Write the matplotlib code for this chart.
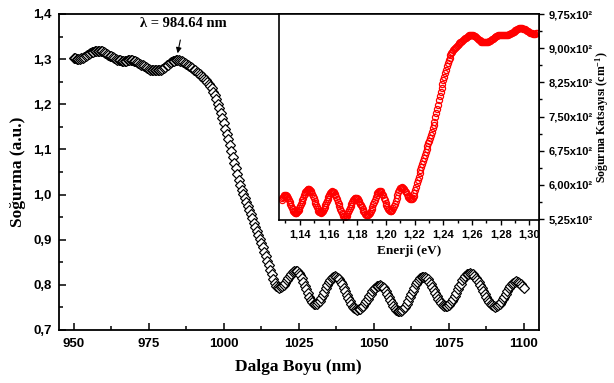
import numpy as np
import matplotlib
matplotlib.use("Agg")
import matplotlib.pyplot as plt
from matplotlib.ticker import MultipleLocator, FuncFormatter

plt.rcParams["mathtext.fontset"] = "custom"
plt.rcParams["mathtext.rm"] = "Liberation Serif:bold"
plt.rcParams["mathtext.default"] = "rm"

# ---- data ----
wl_start = 950.0
wl_step = 0.5
absorbance = [
    # 950.0 - 993.5
    1.303, 1.302, 1.301, 1.301, 1.301, 1.302, 1.303, 1.305, 1.307, 1.309,
    1.311, 1.313, 1.315, 1.316, 1.317, 1.318, 1.318, 1.318, 1.318, 1.317,
    1.316, 1.314, 1.312, 1.310, 1.308, 1.306, 1.304, 1.302, 1.300, 1.299,
    1.298, 1.297, 1.296, 1.296, 1.296, 1.296, 1.297, 1.297, 1.297, 1.297,
    1.296, 1.295, 1.294, 1.292, 1.290, 1.288, 1.286, 1.284, 1.282, 1.280,
    1.279, 1.277, 1.276, 1.275, 1.275, 1.275, 1.275, 1.276, 1.277, 1.279,
    1.281, 1.283, 1.286, 1.288, 1.291, 1.293, 1.295, 1.296, 1.297, 1.297,
    1.297, 1.296, 1.295, 1.293, 1.291, 1.289, 1.287, 1.285, 1.282, 1.280,
    1.277, 1.275, 1.272, 1.269, 1.266, 1.263, 1.260, 1.257,
    # 994.0 - 1018.5
    1.254, 1.250, 1.246, 1.241, 1.235, 1.228, 1.220, 1.211, 1.201, 1.191,
    1.180, 1.169, 1.158, 1.146, 1.134, 1.122, 1.110, 1.097, 1.084, 1.071,
    1.058, 1.045, 1.032, 1.021, 1.011, 1.001, 0.992, 0.983, 0.974, 0.965,
    0.956, 0.947, 0.938, 0.929, 0.920, 0.910, 0.901, 0.892, 0.883, 0.873,
    0.863, 0.853, 0.843, 0.833, 0.823, 0.813, 0.804, 0.798, 0.795, 0.794,
    # 1019.0 - 1024.0
    0.795, 0.797, 0.800, 0.805, 0.810, 0.815, 0.820, 0.825, 0.828, 0.830, 0.831,
    # 1024.5 - 1030.5
    0.830, 0.827, 0.822, 0.815, 0.807, 0.798, 0.790, 0.781, 0.773, 0.766, 0.761, 0.758, 0.757,
    # 1031.0 - 1037.0
    0.758, 0.761, 0.765, 0.770, 0.777, 0.784, 0.792, 0.799, 0.806, 0.811, 0.815, 0.818, 0.819,
    # 1037.5 - 1044.5
    0.818, 0.816, 0.812, 0.807, 0.801, 0.793, 0.786, 0.778, 0.771, 0.764, 0.757, 0.752, 0.748, 0.746, 0.745,
    # 1045.0 - 1052.0
    0.746, 0.747, 0.750, 0.754, 0.759, 0.764, 0.769, 0.775, 0.780, 0.786, 0.790, 0.794, 0.797, 0.798, 0.799,
    # 1052.5 - 1058.5
    0.798, 0.796, 0.792, 0.786, 0.780, 0.774, 0.766, 0.760, 0.754, 0.748, 0.744, 0.742, 0.741,
    # 1059.0 - 1066.5
    0.742, 0.744, 0.748, 0.752, 0.758, 0.765, 0.772, 0.780, 0.787, 0.794, 0.801, 0.807, 0.811, 0.815, 0.817, 0.818,
    # 1067.0 - 1074.0
    0.817, 0.815, 0.812, 0.807, 0.802, 0.796, 0.789, 0.782, 0.775, 0.769, 0.764, 0.759, 0.756, 0.754, 0.753,
    # 1074.5 - 1082.0
    0.754, 0.756, 0.759, 0.764, 0.769, 0.776, 0.782, 0.790, 0.797, 0.803, 0.810, 0.815, 0.820, 0.823, 0.825, 0.826,
    # 1082.5 - 1090.5
    0.825, 0.823, 0.820, 0.816, 0.811, 0.806, 0.799, 0.792, 0.786, 0.779, 0.773, 0.767, 0.762, 0.758, 0.755, 0.753, 0.752,
    # 1091.0 - 1097.5
    0.753, 0.755, 0.758, 0.763, 0.768, 0.774, 0.780, 0.786, 0.792, 0.797, 0.801, 0.805, 0.807, 0.808,
    # 1098.0 - 1100.0
    0.807, 0.805, 0.802, 0.798, 0.793,
]
wavelength = wl_start + wl_step * np.arange(len(absorbance))

# inset: photon energy (eV) and absorption coefficient (cm^-1)
HC_EV_NM = 1240.0
ALPHA_PER_ABS = 716.0
energy = HC_EV_NM / wavelength
alpha = ALPHA_PER_ABS * np.array(absorbance)

peak_wavelength = 984.64
peak_label = "λ = 984.64 nm"

main_xticks = [950, 975, 1000, 1025, 1050, 1075, 1100]

# ---- figure ----
W, H = 614, 383
fig = plt.figure(figsize=(W / 100, H / 100), dpi=100)
fig.patch.set_facecolor("white")

label_font = dict(family="Liberation Serif", weight="bold")

ax = fig.add_axes([58.7 / W, 1 - 330 / H, (538.7 - 58.7) / W, (330 - 14) / H])
ax.plot(wavelength, absorbance, linestyle="none", marker="D", markersize=4.7,
        markerfacecolor="white", markeredgecolor="black", markeredgewidth=0.85)
ax.set_xlim(945, 1105)
ax.set_ylim(0.7, 1.4)
ax.set_xticks(main_xticks)
ax.xaxis.set_minor_locator(MultipleLocator(12.5))
ax.yaxis.set_major_locator(MultipleLocator(0.1))
ax.yaxis.set_minor_locator(MultipleLocator(0.05))
ax.yaxis.set_major_formatter(FuncFormatter(lambda v, p: f"{v:.1f}".replace(".", ",")))
ax.tick_params(which="both", direction="in", top=False, right=False)
ax.tick_params(which="major", length=5, width=1.1)
ax.tick_params(which="minor", length=3, width=1.1)
for lab in ax.get_xticklabels() + ax.get_yticklabels():
    lab.set_fontfamily("Liberation Sans")
    lab.set_fontweight("bold")
    lab.set_fontsize(9.5)
ax.tick_params(axis="x", pad=6)
ax.tick_params(axis="y", pad=5)
for s in ax.spines.values():
    s.set_linewidth(1.3)
ax.set_xlabel("Dalga Boyu (nm)", fontsize=12.5, labelpad=6, **label_font)
ax.set_ylabel("Soğurma (a.u.)", fontsize=12.5, labelpad=5, **label_font)

ax.annotate(peak_label, xy=(peak_wavelength, 1.313), xytext=(peak_wavelength + 2, 1.378),
            ha="center", va="center", fontsize=10.5, **label_font,
            arrowprops=dict(arrowstyle="-|>", color="black", lw=0.8, mutation_scale=8,
                            shrinkA=5, shrinkB=0))

# inset
ins = fig.add_axes([279 / W, 1 - 220 / H, (538.7 - 279) / W, (220 - 14) / H])
ins.set_facecolor("white")
ins.plot(energy, alpha, linestyle="none", marker="o", markersize=4.4,
         markerfacecolor="none", markeredgecolor="red", markeredgewidth=0.9)
ins.set_xlim(1.1255, 1.3065)
ins.set_ylim(523, 975)
ins.xaxis.set_minor_locator(MultipleLocator(0.01))
ins.yaxis.set_major_locator(MultipleLocator(75))
ins.yaxis.set_minor_locator(MultipleLocator(37.5))
ins.set_xticks(np.arange(1.14, 1.3001, 0.02))
ins.xaxis.set_major_formatter(FuncFormatter(lambda v, p: f"{v:.2f}".replace(".", ",")))
ins.yaxis.set_major_formatter(FuncFormatter(lambda v, p: f"{v/100:.2f}".replace(".", ",") + "x10²"))
ins.yaxis.tick_right()
ins.tick_params(which="both", direction="out")
ins.tick_params(which="major", length=3.5, width=1)
ins.tick_params(which="minor", length=2, width=1)
for lab in ins.get_xticklabels() + ins.get_yticklabels():
    lab.set_fontfamily("Liberation Sans")
    lab.set_fontweight("bold")
    lab.set_fontsize(8)
for s in ins.spines.values():
    s.set_linewidth(1.2)
ins.set_xlabel("Enerji (eV)", fontsize=9.5, labelpad=4, **label_font)
fig.text(602 / W, 1 - 117 / H, "Soğurma Katsayısı (cm$^{-1}$)", rotation=90,
         ha="center", va="center", fontsize=8.5, **label_font)

fig.savefig("out.png", dpi=100, facecolor="white")
